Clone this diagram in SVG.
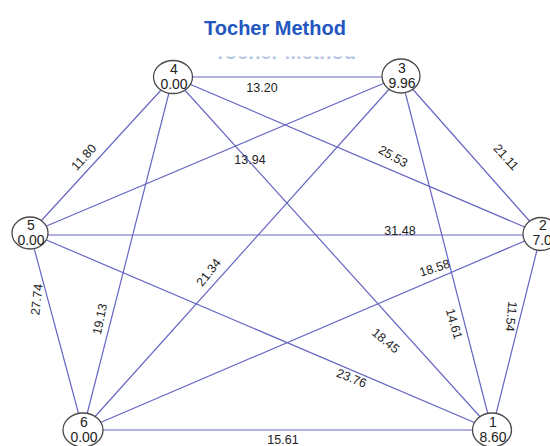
<svg xmlns="http://www.w3.org/2000/svg" width="550" height="446" viewBox="0 0 550 446">
<style>
.e{stroke:#6666c4;stroke-width:1.2;fill:none}
.n{fill:#fff;stroke:#4a4a4a;stroke-width:1.3}
.t{font-family:"Liberation Sans",Arial,sans-serif;font-size:14px;fill:#222;text-anchor:middle}
.l{font-family:"Liberation Sans",Arial,sans-serif;font-size:12.5px;fill:#222;text-anchor:middle}
.title{font-family:"Liberation Sans",Arial,sans-serif;font-size:20px;font-weight:bold;fill:#2356bf;text-anchor:middle}
</style>
<defs><clipPath id="gc"><rect x="180" y="56.5" width="200" height="2.5"/></clipPath></defs>
<rect width="550" height="446" fill="#fff"/>
<text class="title" x="275" y="35">Tocher Method</text>
<text class="title" x="285" y="59" clip-path="url(#gc)" style="fill:#b4c3e4">Tocher Method</text>
<g id="connectors">
<line class="e" x1="173" y1="77" x2="401" y2="77"/>
<line class="e" x1="173" y1="77" x2="30" y2="233"/>
<line class="e" x1="173" y1="77" x2="541" y2="234"/>
<line class="e" x1="173" y1="77" x2="83" y2="430"/>
<line class="e" x1="173" y1="77" x2="492" y2="430"/>
<line class="e" x1="401" y1="76" x2="30" y2="233"/>
<line class="e" x1="401" y1="76" x2="541" y2="234"/>
<line class="e" x1="401" y1="76" x2="83" y2="430"/>
<line class="e" x1="401" y1="76" x2="492" y2="430"/>
<line class="e" x1="30" y1="235" x2="541" y2="235"/>
<line class="e" x1="30" y1="233" x2="83" y2="430"/>
<line class="e" x1="30" y1="233" x2="492" y2="430"/>
<line class="e" x1="541" y1="234" x2="83" y2="430"/>
<line class="e" x1="541" y1="234" x2="492" y2="430"/>
<line class="e" x1="83" y1="430" x2="492" y2="430"/>
</g>
<g id="labels">
<text class="l" x="262" y="92">13.20</text>
<text class="l" transform="translate(87,160) rotate(-48)">11.80</text>
<text class="l" x="250" y="164">13.94</text>
<text class="l" transform="translate(391,160) rotate(30)">25.53</text>
<text class="l" transform="translate(503,160) rotate(48)">21.11</text>
<text class="l" x="400" y="235">31.48</text>
<text class="l" transform="translate(436,272) rotate(-18)">18.58</text>
<text class="l" transform="translate(212,275) rotate(-52)">21.34</text>
<text class="l" transform="translate(104,320) rotate(-78)">19.13</text>
<text class="l" transform="translate(41,300) rotate(-84)">27.74</text>
<text class="l" transform="translate(383,344) rotate(40)">18.45</text>
<text class="l" transform="translate(450,325) rotate(74)">14.61</text>
<text class="l" transform="translate(507,316) rotate(96)">11.54</text>
<text class="l" transform="translate(350,382) rotate(22)">23.76</text>
<text class="l" x="283" y="444">15.61</text>
</g>
<g id="node4"><ellipse class="n" cx="173" cy="77" rx="19.5" ry="16.5"/><text class="t" x="174" y="74">4</text><text class="t" x="174" y="89">0.00</text></g>
<g id="node3"><ellipse class="n" cx="401" cy="76" rx="19" ry="17"/><text class="t" x="402" y="73">3</text><text class="t" x="402" y="88">9.96</text></g>
<g id="node5"><ellipse class="n" cx="30" cy="233" rx="18" ry="16"/><text class="t" x="31" y="230">5</text><text class="t" x="31" y="245">0.00</text></g>
<g id="node2"><ellipse class="n" cx="541" cy="234" rx="18" ry="16.5"/><text class="t" x="543" y="230">2</text><text class="t" x="546" y="245">7.04</text></g>
<g id="node6"><ellipse class="n" cx="83" cy="430" rx="20" ry="17"/><text class="t" x="84" y="427">6</text><text class="t" x="84" y="442">0.00</text></g>
<g id="node1"><ellipse class="n" cx="492" cy="430" rx="19.5" ry="17"/><text class="t" x="493" y="427">1</text><text class="t" x="493" y="442">8.60</text></g>
</svg>
